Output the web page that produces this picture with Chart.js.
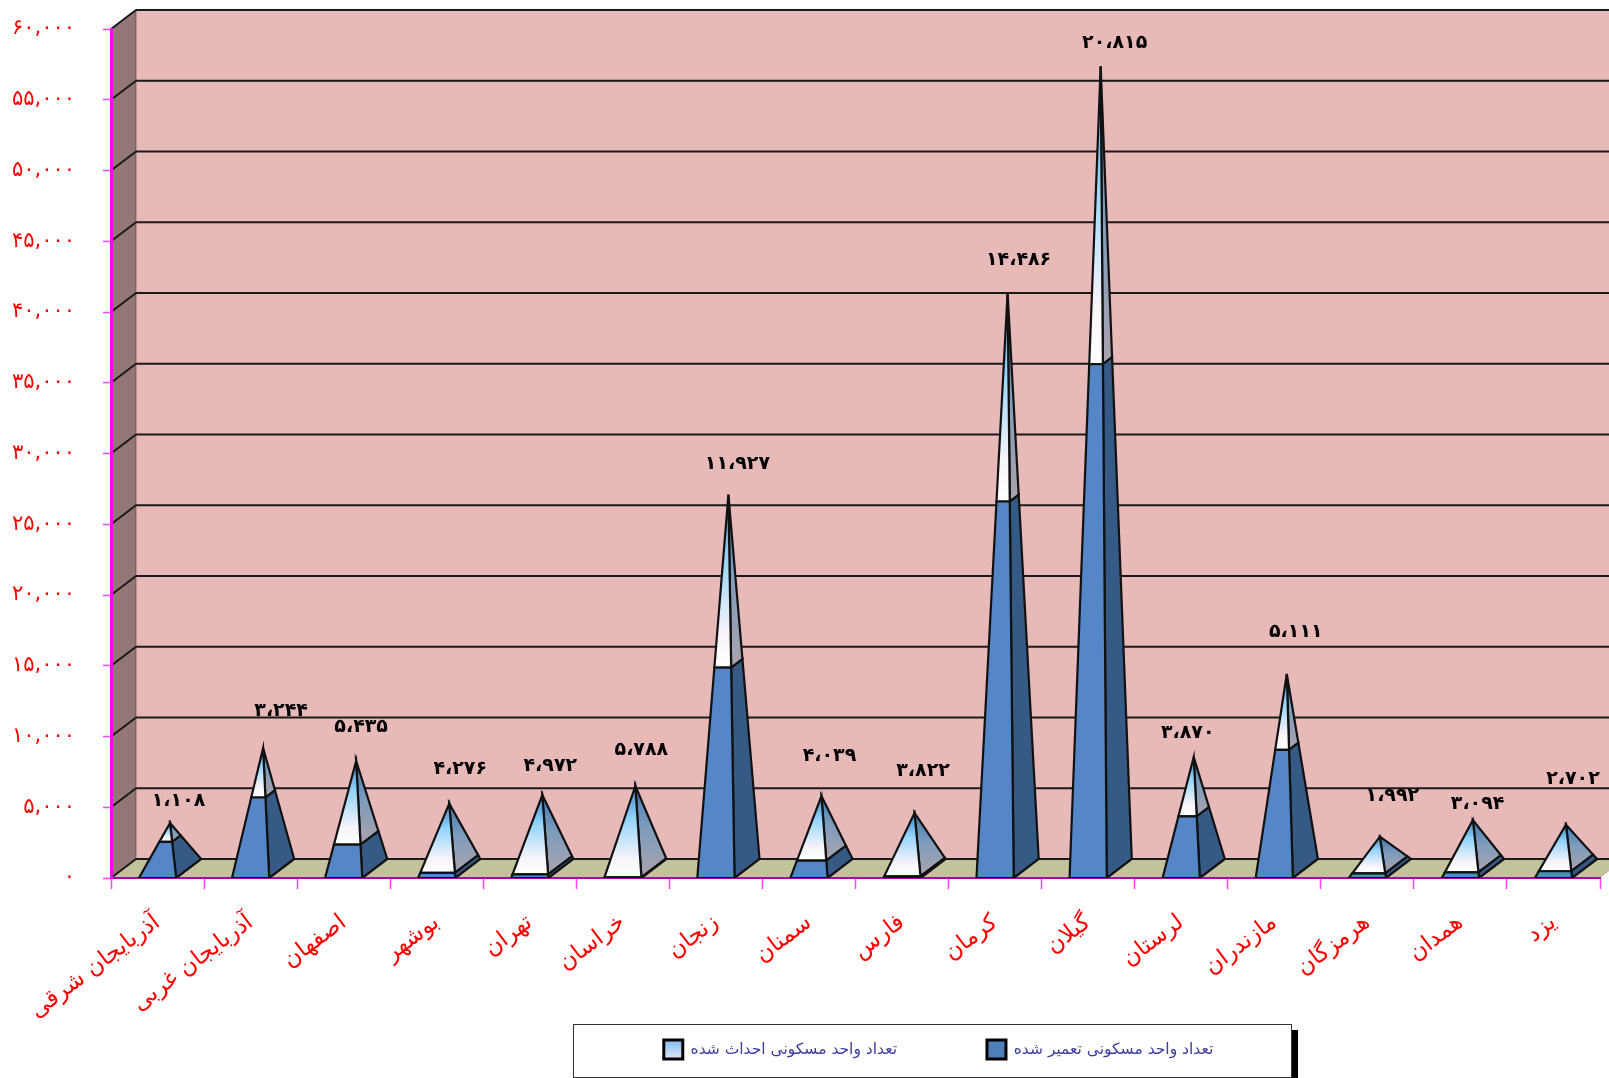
<!DOCTYPE html>
<html><head><meta charset="utf-8">
<style>html,body{margin:0;padding:0;background:#fff}canvas{display:block}</style>
<script src="https://cdn.jsdelivr.net/npm/chart.js@4/dist/chart.umd.min.js"></script>
</head><body>
<div style="width:1609px;height:1078px;overflow:hidden"><canvas id="c" width="1609" height="1078"></canvas></div>
<script>
const categories = ["آذربایجان شرقی","آذربایجان غربی","اصفهان","بوشهر","تهران","خراسان","زنجان","سمنان","فارس","کرمان","گیلان","لرستان","مازندران","هرمزگان","همدان","یزد"];
const renovatedUnits = [2107,5272,2162,318,222,42,14493,1085,100,26174,35885,4010,8634,255,333,393];
const createdUnits = [1108,3244,5435,4276,4972,5788,11927,4039,3822,14486,20815,3870,5111,1992,3094,2702];
const yTickLabels = ["۰","۵,۰۰۰","۱۰,۰۰۰","۱۵,۰۰۰","۲۰,۰۰۰","۲۵,۰۰۰","۳۰,۰۰۰","۳۵,۰۰۰","۴۰,۰۰۰","۴۵,۰۰۰","۵۰,۰۰۰","۵۵,۰۰۰","۶۰,۰۰۰"];
const seriesNames = ["تعداد واحد مسکونی تعمیر شده","تعداد واحد مسکونی احداث شده"];
// value-label nudges relative to the pyramid apex
const labelDx = [8.5,18,5,11,8,6,9,8,8.5,11,14,-6,9,12.5,4.7,7];
const labelDy = [-22,-37,-33.5,-34,-28.5,-36,-30.6,-40,-42,-33.4,-23,-24.4,-42,-41,-15.5,-46];

const DX = 25, DY = 19;
const ARABIC = '"DejaVu Sans"';
const faDigits = s => String(s).replace(/\d/g, d => "۰۱۲۳۴۵۶۷۸۹"[d]);
const faNum = n => faDigits(Math.floor(n/1000)) + "،" + faDigits(String(n%1000).padStart(3,"0"));

class PyramidController extends Chart.BarController {
  draw() {
    const ctx = this.chart.ctx, meta = this.getMeta(), yS = this.chart.scales.y;
    const dsIndex = this.index, sets = this.chart.data.datasets;
    const y0 = yS.getPixelForValue(0);
    meta.data.forEach((el, i) => {
      const total = sets.reduce((a, d) => a + d.data[i], 0);
      const start = sets.slice(0, dsIndex).reduce((a, d) => a + d.data[i], 0);
      const f0 = start / total, f1 = (start + sets[dsIndex].data[i]) / total;
      const w = el.width, cx = el.x;
      const ax = cx + DX/2, ay = yS.getPixelForValue(total) - DY/2;
      const at = (x, y, f) => [x + (ax - x)*f, y + (ay - y)*f];
      const fl = f => at(cx - w/2, y0, f), fr = f => at(cx + w/2, y0, f), br = f => at(cx + w/2 + DX, y0 - DY, f);
      const poly = (pts, fill) => {
        ctx.beginPath(); pts.forEach((p, k) => k ? ctx.lineTo(p[0], p[1]) : ctx.moveTo(p[0], p[1]));
        ctx.closePath(); ctx.fillStyle = fill; ctx.fill();
        ctx.lineWidth = 2.2; ctx.strokeStyle = "#111"; ctx.lineJoin = "miter"; ctx.miterLimit = 8; ctx.stroke();
      };
      let frontFill, sideFill;
      if (dsIndex === 0) {
        frontFill = "#5587c8"; sideFill = "#355a85";
      } else {
        const gy0 = fl(f0)[1];
        const g = ctx.createLinearGradient(0, ay, 0, gy0);
        g.addColorStop(0, "#3f7fc0"); g.addColorStop(0.35, "#8fd3fb"); g.addColorStop(0.8, "#f8f4f9"); g.addColorStop(1, "#ffffff");
        frontFill = g;
        const h = ctx.createLinearGradient(0, ay, 0, gy0);
        h.addColorStop(0, "#3f78b4"); h.addColorStop(0.45, "#7d9cbc"); h.addColorStop(1, "#aaa3ae");
        sideFill = h;
      }
      poly([br(f0), br(f1), fr(f1), fr(f0)], sideFill);
      poly([fl(f0), fr(f0), fr(f1), fl(f1)], frontFill);
    });
  }
}
PyramidController.id = "pyramid";
PyramidController.defaults = Chart.BarController.defaults;
Chart.register(PyramidController);

const scene = {
  id: "scene",
  afterLayout(chart) {
    const lg = chart.legend;
    lg.left = 379; lg.right = 1498; lg.top = 1040 - lg.options.labels.padding;
  },
  beforeDraw(chart) {
    const { ctx, chartArea: a, scales: { y } } = chart;
    const fillPoly = (pts, c) => { ctx.beginPath(); pts.forEach((p, k) => k ? ctx.lineTo(p[0], p[1]) : ctx.moveTo(p[0], p[1])); ctx.closePath(); ctx.fillStyle = c; ctx.fill(); };
    const top = y.getPixelForValue(60000), bot = y.getPixelForValue(0);
    const W = chart.width;
    fillPoly([[a.left+DX, top-DY],[W, top-DY],[W, bot-DY],[a.left+DX, bot-DY]], "#e8b9b9");
    fillPoly([[a.left, top],[a.left+DX, top-DY],[a.left+DX, bot-DY],[a.left, bot]], "#937676");
    fillPoly([[a.left, bot],[a.left+DX, bot-DY],[W, bot-DY],[a.right+DX, bot-DY],[a.right, bot]], "#c2c29b");
    ctx.save();
    ctx.strokeStyle = "#1a1a1a"; ctx.lineWidth = 2; ctx.lineJoin = "round";
    y.ticks.forEach(t => {
      const py = y.getPixelForValue(t.value);
      ctx.beginPath(); ctx.moveTo(a.left, py); ctx.lineTo(a.left+DX, py-DY); ctx.lineTo(W, py-DY); ctx.stroke();
    });
    ctx.beginPath(); ctx.moveTo(a.left+DX, top-DY); ctx.lineTo(a.left+DX, bot-DY); ctx.strokeStyle = "rgba(60,40,40,.5)"; ctx.lineWidth = 1; ctx.stroke();
    ctx.restore();
    // legend frame
    ctx.fillStyle = "#000"; ctx.fillRect(1292, 1030, 6, 48);
    ctx.fillStyle = "#fff"; ctx.fillRect(573, 1024, 719, 53);
    ctx.strokeStyle = "#333"; ctx.lineWidth = 1; ctx.strokeRect(573.5, 1024.5, 718, 53);
  },
  afterDatasetsDraw(chart) {
    const { ctx, scales: { x, y } } = chart;
    const sets = chart.data.datasets;
    ctx.save();
    ctx.fillStyle = "#000"; ctx.font = "bold 19px " + ARABIC; ctx.textAlign = "center"; ctx.textBaseline = "middle";
    createdUnits.forEach((v, i) => {
      const total = sets[0].data[i] + sets[1].data[i];
      const ax = x.getPixelForValue(i) + DX/2, ay = y.getPixelForValue(total) - DY/2;
      ctx.fillText(faNum(v), ax + labelDx[i], ay + labelDy[i]);
    });
    ctx.restore();
  }
};

const ctx = document.getElementById("c").getContext("2d");
const lg = ctx.createLinearGradient(0, 1040, 0, 1060);
lg.addColorStop(0, "#7fbdf6"); lg.addColorStop(1, "#e6e6f2");

new Chart(ctx, {
  type: "pyramid",
  data: {
    labels: categories,
    datasets: [
      { label: seriesNames[0], data: renovatedUnits, backgroundColor: "#4f7fbb", stack: "s" },
      { label: seriesNames[1], data: createdUnits, backgroundColor: lg, stack: "s" }
    ]
  },
  options: {
    responsive: false, animation: false,
    layout: { padding: { top: 29, right: 9, left: 0, bottom: 0 } },
    datasets: { pyramid: { categoryPercentage: 1, barPercentage: 0.4 } },
    plugins: {
      tooltip: { enabled: false },
      legend: {
        position: "bottom", reverse: true, fullSize: true, maxHeight: 30,
        labels: {
          boxWidth: 19, boxHeight: 19, padding: 90,
          color: "#3d3d9e", font: { family: ARABIC, size: 15.5 },
          generateLabels(chart) {
            return chart.data.datasets.map((d, i) => ({ text: d.label, fillStyle: d.backgroundColor, strokeStyle: "#000", lineWidth: 3, fontColor: "#3d3d9e", datasetIndex: i, hidden: false }));
          }
        }
      }
    },
    scales: {
      x: {
        stacked: true,
        grid: { display: true, drawOnChartArea: false, drawTicks: true, tickLength: 11, tickColor: "#ff40ff", tickWidth: 1.5 },
        border: { display: true, color: "#b000b0", width: 2 },
        ticks: { color: "#ff0000", font: { family: ARABIC, size: 23 }, minRotation: 37, maxRotation: 37, padding: 20, autoSkip: false },
        afterFit(s) { s.height = 170; }
      },
      y: {
        stacked: true, min: 0, max: 60000,
        grid: { display: true, drawOnChartArea: false, tickLength: 8, tickColor: "#ff40ff", tickWidth: 1.5 },
        border: { display: true, color: "#ff00ff", width: 3 },
        ticks: { stepSize: 5000, color: "#ff0000", font: { family: ARABIC, size: 21 }, padding: 28,
          callback: (v) => yTickLabels[v / 5000] },
        afterFit(s) { s.width = 111; s.paddingTop = 0; s.paddingBottom = 0; }
      }
    }
  },
  plugins: [scene]
});
</script>
</body></html>
